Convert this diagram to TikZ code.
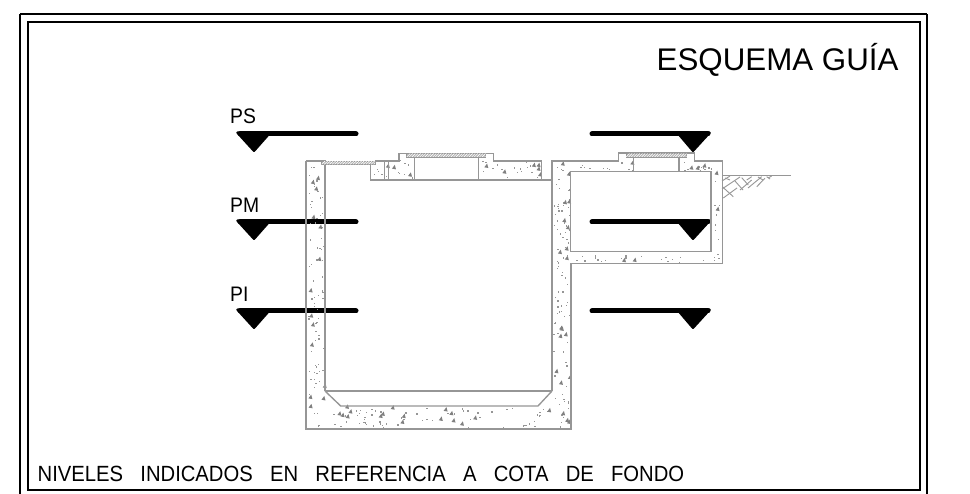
\documentclass[tikz,border=0pt]{standalone}
\usepackage{fontspec}
\setmainfont{Liberation Sans}
\newfontfamily\notefont[FakeStretch=0.92]{Liberation Sans}
\definecolor{wallgray}{HTML}{969696}
\definecolor{hatchgray}{HTML}{808080}
\tikzset{
  x=1pt,y=-1pt,
  frameline/.style={line width=2pt,draw=black},
  wall/.style={line width=1.35pt,draw=wallgray,line join=miter},
  thinwall/.style={line width=.9pt,draw=wallgray},
  levelline/.style={line width=5pt,draw=black,line cap=round},
  levelmark/.style={fill=black,draw=black,line width=2.4pt,line join=round},
  lbl/.style={inner sep=0pt,anchor=base west,text=black},
  coverbar/.style={draw=wallgray,line width=.7pt,fill=black!30},
}
\newcommand{\levelL}[1]{%
  \draw[levelline] (240,#1) -- (356,#1);
  \draw[levelmark] (237.5,#1-1.3) -- (270,#1-1.3) -- (254,#1+16.8) -- cycle;}
\newcommand{\levelR}[1]{%
  \draw[levelline] (592,#1) -- (708,#1);
  \draw[levelmark] (677.5,#1-1.3) -- (709.5,#1-1.3) -- (693,#1+16.8) -- cycle;}
% speckle: x1 y1 x2 y2 dots triangles
\newcommand{\speck}[6]{%
  \foreach \i in {1,...,#5}{%
    \pgfmathsetmacro{\sx}{#1+rnd*(#3-#1)}\pgfmathsetmacro{\sy}{#2+rnd*(#4-#2)}%
    \fill[wallgray] (\sx,\sy) rectangle +(1.3,1.3);}
  \ifnum#6>0
  \foreach \i in {1,...,#6}{%
    \pgfmathsetmacro{\sx}{#1+rnd*(#3-#1)}\pgfmathsetmacro{\sy}{#2+rnd*(#4-#2)}%
    \fill[hatchgray] (\sx,\sy) -- +(4,.7) -- +(2.8,-3.8) -- cycle;}
  \fi}
\newcommand{\coverbar}[4]{%
  \draw[coverbar] (#1,#2) rectangle (#3,#4);
  \begin{scope}
    \clip (#1,#2) rectangle (#3,#4);
    \pgfmathsetmacro{\hstep}{#1+2.6}
    \foreach \hx in {#1,\hstep,...,#3}{\draw[white,line width=.6pt] (\hx,#4) -- (\hx+3.5,#2);}
  \end{scope}}
\begin{document}
\begin{tikzpicture}
\useasboundingbox (0,0) rectangle (970,494);
\fill[white] (0,0) rectangle (970,494);
\pgfmathsetseed{4127}
% frames
\draw[frameline] (20,14.5) -- (927,14.5);
\draw[frameline] (20,14.5) -- (20,494);
\draw[frameline] (927,14.5) -- (927,494);
\draw[frameline] (28,22.5) rectangle (919.5,490);
% level markers
\levelL{134}\levelL{222}\levelL{311}
\levelR{134}\levelR{222}\levelR{311}
% speckle
\speck{308}{165}{323}{427}{70}{14}
\speck{327}{408}{550}{427}{62}{17}
\speck{553}{183}{569}{390}{48}{10}
\speck{553}{392}{569}{427}{12}{3}
\speck{373}{166}{412}{178}{10}{3}
\speck{480}{160}{539}{178}{20}{6}
\speck{400}{158}{412}{165}{3}{0}
\speck{554}{165}{618}{170}{10}{1}
\speck{554}{174}{569}{262}{20}{5}
\speck{695}{165}{720}{170}{8}{2}
\speck{713}{174}{720}{262}{10}{2}
\speck{572}{255}{720}{262}{22}{2}
\speck{620}{160}{632}{170}{3}{1}
\speck{681}{160}{692}{170}{3}{1}
% main chamber
\draw[wall] (306,161) -- (306,429) -- (571,429) -- (571,263.5) -- (722.3,263.5)
  -- (722.3,161) -- (694.3,161) -- (694.3,153) -- (618.3,153) -- (618.3,161) -- (552,161)
  -- (552,391);
\draw[wall] (306,161) -- (325,161) -- (325,391);
\draw[wall] (325,391) -- (552,391);
\draw[wall] (325,391) -- (340.7,406) -- (538,406) -- (552,391);
% roof of the main chamber
\draw[wall] (375,161) -- (399,161) -- (399,153.3) -- (493.7,153.3) -- (493.7,161)
  -- (541.3,161) -- (541.3,180);
\draw[wall] (370.3,164) -- (370.3,180) -- (552,180);
\draw[thinwall] (384.3,161) -- (384.3,180);
\draw[thinwall] (388,161) -- (388,180);
\draw[wall] (414.3,157) -- (414.3,180);
\draw[wall] (478.3,157) -- (478.3,180);
% right chamber
\draw[wall] (570.7,171.7) rectangle (711,251.3);
\draw[wall] (633.7,157) -- (633.7,171.7);
\draw[wall] (679,157) -- (679,171.7);
% ground
\draw[wall] (722.3,175.7) -- (790.7,175.7);
\foreach \a/\b/\c/\d in {
 722/181/730/176, 722/189/740/177, 723.3/198/737/188, 740/190/751.7/180,
 746.7/180/751.7/176.7, 756.7/186.7/765/178.3, 748/188/761.7/176.7, 768/178/771.7/176,
 722.3/186.7/733.3/196.7, 735/181/743/190, 741.7/177.7/748.3/185, 725/178/730/180,
 758/177/763/180, 766.7/176.7/770/179}{
  \draw[wallgray,line width=.9pt] (\a,\b) -- (\c,\d);}
% hatched covers
\coverbar{321.7}{161}{375}{164.3}
\coverbar{406.7}{153.5}{485.7}{157}
\coverbar{626}{153.5}{686.7}{157}
% texts
\node[lbl,font=\fontsize{31.3}{31.3}\selectfont] (title) at (656.5,71) {ESQUEMA GUÍA};
\node[lbl,font=\notefont\fontsize{21}{21}\selectfont] (ps) at (230,124) {PS};
\node[lbl,font=\notefont\fontsize{21}{21}\selectfont] (pm) at (230,212.3) {PM};
\node[lbl,font=\notefont\fontsize{21}{21}\selectfont] (pi) at (230,301.7) {PI};
\node[lbl,font=\notefont\fontsize{22}{22}\selectfont] (note) at (37.5,481.7) {NIVELES\hspace{11.6pt} INDICADOS\hspace{11.6pt} EN\hspace{11.6pt} REFERENCIA\hspace{11.6pt} A\hspace{11.6pt} COTA\hspace{11.6pt} DE\hspace{11.6pt} FONDO};
\end{tikzpicture}
\end{document}
